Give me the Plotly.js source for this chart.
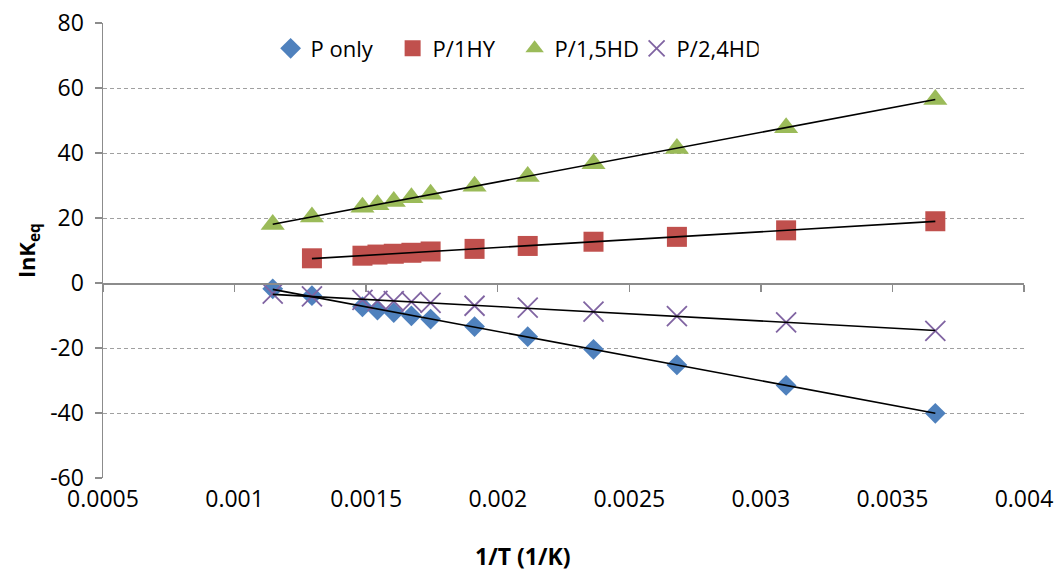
<!DOCTYPE html>
<html>
<head>
<meta charset="utf-8">
<script src="https://cdn.plot.ly/plotly-3.0.1.min.js"></script>
<style>html,body{margin:0;padding:0;background:#fff;}#chart{width:1063px;height:572px;}</style>
</head>
<body>
<div id="chart"></div>
<script>
// 1/T values (1/K)
const invT = [0.001145, 0.001294, 0.001486, 0.001543, 0.001605, 0.001672, 0.001745, 0.001912, 0.002114, 0.002364, 0.002681, 0.003096, 0.003663];
const invT_1HY = [0.001294, 0.001486, 0.001543, 0.001605, 0.001672, 0.001745, 0.001912, 0.002114, 0.002364, 0.002681, 0.003096, 0.003663];

const seriesNames = ["P only", "P/1HY", "P/1,5HD", "P/2,4HD"];
const pOnly   = [-1.8, -3.9, -7.3, -8.3, -9.1, -10.1, -11.1, -13.4, -16.5, -20.4, -25.2, -31.5, -40.1];
const p1HY    = [7.6, 8.4, 8.75, 9.0, 9.3, 9.7, 10.5, 11.4, 12.7, 14.2, 16.2, 19.0];
const p15HD   = [18.0, 20.3, 23.3, 24.1, 25.1, 26.2, 27.3, 29.8, 32.8, 36.7, 41.4, 47.8, 56.5];
const p24HD   = [-3.3, -4.1, -5.2, -5.5, -5.6, -5.8, -6.1, -7.0, -7.6, -8.8, -10.2, -12.1, -14.7];

const xTickVals = [0.0005, 0.001, 0.0015, 0.002, 0.0025, 0.003, 0.0035, 0.004];
const xTickText = ["0.0005", "0.001", "0.0015", "0.002", "0.0025", "0.003", "0.0035", "0.004"];
const yTickVals = [-60, -40, -20, 0, 20, 40, 60, 80];
const yTickText = ["-60", "-40", "-20", "0", "20", "40", "60", "80"];

const FONT = "Open Sans, sans-serif";

function linFit(xs, ys) {
  const n = xs.length;
  let sx = 0, sy = 0, sxx = 0, sxy = 0;
  for (let i = 0; i < n; i++) { sx += xs[i]; sy += ys[i]; sxx += xs[i]*xs[i]; sxy += xs[i]*ys[i]; }
  const b = (n*sxy - sx*sy) / (n*sxx - sx*sx);
  const a = (sy - b*sx) / n;
  const x0 = Math.min(...xs), x1 = Math.max(...xs);
  return {x: [x0, x1], y: [a + b*x0, a + b*x1]};
}

const seriesX = [invT, invT_1HY, invT, invT];
const seriesY = [pOnly, p1HY, p15HD, p24HD];
const colors = ["#4F81BD", "#C0504D", "#9BBB59", "#8064A2"];
const markers = [
  {symbol: "diamond", size: 16, color: colors[0]},
  {symbol: "square", size: 20, color: colors[1]},
  {symbol: "triangle-up", size: 21, color: colors[2]},
  {symbol: "x-thin-open", size: 20, color: colors[3], line: {color: colors[3], width: 1.8}}
];

const traces = [];
for (let i = 0; i < 4; i++) {
  traces.push({
    type: "scatter", mode: "markers", name: seriesNames[i],
    x: seriesX[i], y: seriesY[i], marker: markers[i], hoverinfo: "x+y"
  });
}
for (let i = 0; i < 4; i++) {
  const f = linFit(seriesX[i], seriesY[i]);
  traces.push({
    type: "scatter", mode: "lines", x: f.x, y: f.y, xaxis: "x2",
    line: {color: "#000000", width: 1.6}, showlegend: false, hoverinfo: "skip"
  });
}

const layout = {
  width: 1063, height: 572,
  margin: {l: 103, r: 39, t: 23, b: 94},
  paper_bgcolor: "#ffffff", plot_bgcolor: "#ffffff",
  font: {family: FONT, size: 22, color: "#000000"},
  showlegend: true,
  legend: {
    orientation: "h", x: 0.182, y: 0.99, xanchor: "left", yanchor: "top",
    bgcolor: "rgba(0,0,0,0)", font: {family: FONT, size: 22, color: "#000"},
    itemwidth: 30, tracegroupgap: 0, entrywidth: 77, entrywidthmode: "pixels"
  },
  xaxis: {
    range: [0.0005, 0.004], tickvals: xTickVals, ticktext: xTickText,
    showgrid: false, zeroline: false, showline: false, ticks: "",
    tickfont: {family: FONT, size: 23, color: "#000"}, ticklabelstandoff: 5
  },
  xaxis2: {
    matches: "x", overlaying: "x", anchor: "free", position: 60/140,
    range: [0.0005, 0.004], tickvals: xTickVals, showticklabels: false,
    showgrid: false, zeroline: false, showline: true, linecolor: "#8c8c8c", linewidth: 1.5,
    ticks: "outside", ticklen: 7, tickcolor: "#8c8c8c", tickwidth: 1.5
  },
  yaxis: {
    range: [-60, 80], tickvals: yTickVals, ticktext: yTickText,
    showgrid: true, gridcolor: "#a0a0a0", gridwidth: 1, griddash: "4px,3px",
    zeroline: false, showline: true, linecolor: "#8c8c8c", linewidth: 1.5,
    ticks: "outside", ticklen: 7, tickcolor: "#8c8c8c", tickwidth: 1.5,
    tickfont: {family: FONT, size: 23, color: "#000"}, ticklabelstandoff: 6,
    title: {text: "lnK<sub>eq</sub>", font: {family: FONT, size: 22, color: "#000", weight: "bold"}, standoff: 8}
  },
  annotations: [{
    text: "<b>1/T (1/K)</b>", xref: "paper", yref: "paper",
    x: (522 - 103) / 921, y: -(556 - 478) / 455, xanchor: "center", yanchor: "middle",
    showarrow: false, font: {family: FONT, size: 23, color: "#000"}
  }]
};

Plotly.newPlot("chart", traces, layout, {displayModeBar: false, staticPlot: true});
</script>
</body>
</html>
